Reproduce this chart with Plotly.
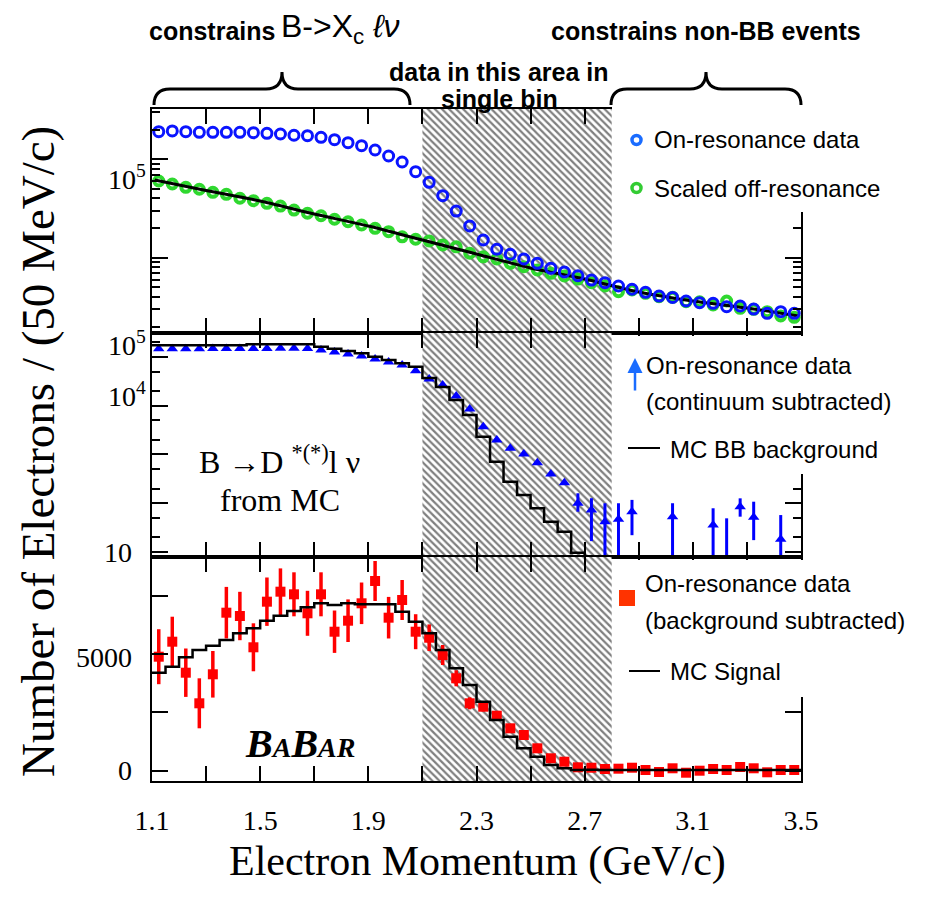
import plotly.graph_objects as go
from plotly.subplots import make_subplots

# ---------------- data ----------------
P = [1.125, 1.175, 1.225, 1.275, 1.325, 1.375, 1.425, 1.475, 1.525, 1.575,
     1.625, 1.675, 1.725, 1.775, 1.825, 1.875, 1.925, 1.975, 2.025, 2.075,
     2.125, 2.175, 2.225, 2.275, 2.325, 2.375, 2.425, 2.475, 2.525, 2.575,
     2.625, 2.675, 2.725, 2.775, 2.825, 2.875, 2.925, 2.975, 3.025, 3.075,
     3.125, 3.175, 3.225, 3.275, 3.325, 3.375, 3.425, 3.475]
BIN_HALF = 0.025

TOP_ON = [190800, 194000, 190800, 188100, 188100, 188100, 188100, 186400, 183800, 180800,
          175400, 173700, 167300, 158200, 147500, 137500, 124300, 108000, 93900, 74800,
          58400, 42700, 29800, 21000, 15130, 12170, 10830, 9700, 8770, 7800,
          7160, 6560, 5930, 5570, 5160, 4780, 4450, 4080, 3950, 3630,
          3490, 3440, 3180, 3230, 3010, 2720, 2830, 2720]
TOP_OFF = [60200, 56100, 51900, 49600, 46200, 44100, 40200, 38000, 35700, 33500,
           30500, 28300, 26700, 24600, 23200, 21500, 19900, 18400, 16300, 15400,
           14800, 13500, 12900, 11100, 10200, 9700, 8770, 8100, 7500, 6940,
           6520, 6070, 5570, 5160, 4510, 4700, 4350, 4020, 3960, 3570,
           3570, 3310, 3630, 3060, 2990, 2830, 2560, 2480]
FIT_P = [1.11, 1.3, 1.5, 1.7, 1.9, 2.1, 2.3, 2.5, 2.7, 2.9, 3.1, 3.3, 3.49]
FIT_Y = [61600, 48200, 37700, 27800, 21000, 15130, 10900, 7860, 6070, 4480, 3630, 3080, 2560]

MID_ON = [147000, 148000, 148000, 148000, 149000, 149000, 150000, 150000, 150000, 150800,
          151000, 150000, 139200, 126600, 115200, 104800, 91000, 78970, 68530, 52360,
          35380, 26650, 15850, 8580, 3718, 1984, 1340, 1024, 679, 398,
          264, 100, 72.7, 41.8, 46.9, 67.1, None, None, 53.0, None,
          None, 35.8, 6, 85.0, 51.5, None, 18.2, None]
MID_UP = [0] * 31 + [60, 54, 58, 53, 50, 0, 0, 47, 0, 0, 43, 43, 41, 56, 0, 39, 0]
MID_DN = [0] * 31 + [33, 56, 41, 46, 45, 0, 0, 52, 0, 0, 35, 5, 32, 34, 0, 17, 0]
MID_MC = [173800, 173800, 173800, 173800, 173800, 173800, 173800, 182200, 182200, 182200,
          182200, 182200, 162700, 148000, 132800, 119100, 101400, 86800, 74270, 63240,
          37090, 24240, 13120, 6460, 2318, 711.8, 276.7, 147.7, 78.8, 41.8,
          26.1, 9.67, 0.3]

BOT_ON = [4880, 5522, 4195, 2885, 4127, 6764, 6622, 5283, 7235, 7663,
          7551, 6738, 7551, 5950, 6421, 7166, 8121, 6550, 7307, 5950,
          5693, 4953, 3955, 2885, 2740, 2354, 1815, 1528, 959, 531,
          385, 146, 128, 73, 86, 128, 30, -56, 103, -86,
          0, 73, 30, 158, 103, -68, 30, 30]
BOT_ERR = [1177, 1070, 1036, 1070, 997, 1104, 1036, 1027, 1036, 997,
           942, 963, 942, 907, 912, 890, 856, 890, 856, 749,
           569, 428, 342, 257, 200, 170, 140, 120, 100, 90,
           80, 70, 60, 60, 60, 60, 60, 60, 60, 60,
           60, 60, 60, 60, 60, 60, 60, 60]
BOT_MC = [4195, 4452, 4854, 5167, 5351, 5595, 5882, 6096, 6421, 6635,
          6836, 6995, 7166, 7093, 7166, 7123, 7123, 7123, 6807, 6378,
          5882, 5167, 4384, 3669, 2954, 2170, 1455, 959, 599, 244,
          103, 30, 40, 30, 35, 30, 25, 30, 30, 35,
          30, 30, 25, 30, 30, 30, 30, 30]

HATCH_LO, HATCH_HI = 2.1, 2.8
X_TICKS = [1.1, 1.3, 1.5, 1.7, 1.9, 2.1, 2.3, 2.5, 2.7, 2.9, 3.1, 3.3, 3.5]
X_LABELS = ["1.1", " ", "1.5", " ", "1.9", " ", "2.3", " ", "2.7", " ", "3.1", " ", "3.5"]

# ---------------- figure ----------------
W, H = 943, 898
ML, MR, MT, MB = 152, 142, 109, 117
PW, PH = W - ML - MR, H - MT - MB


def fx(px):
    return (px - ML) / PW


def fy(py):
    return (H - MB - py) / PH


fig = make_subplots(rows=3, cols=1, shared_xaxes=True, vertical_spacing=0)

SERIF = "Liberation Serif, Times New Roman, serif"
SANS = "Liberation Sans, Arial, sans-serif"

hatch = dict(shape="\\", fgcolor="#000000", bgcolor="white", size=5, solidity=0.45)


def hatch_trace(ylo, yhi):
    return go.Scatter(x=[HATCH_LO, HATCH_HI, HATCH_HI, HATCH_LO, HATCH_LO],
                      y=[ylo, ylo, yhi, yhi, ylo], mode="lines", fill="toself",
                      line=dict(width=0, color="rgba(0,0,0,0)"), fillpattern=hatch,
                      hoverinfo="skip", showlegend=False)


lower_edges = [c - BIN_HALF for c in P]

# top panel
fig.add_trace(hatch_trace(1, 1e7), row=1, col=1)
fig.add_trace(go.Scatter(x=P, y=TOP_OFF, mode="markers",
                         marker=dict(symbol="circle-open", size=9, color="#2fd82f",
                                     line=dict(width=4)), showlegend=False), row=1, col=1)
fig.add_trace(go.Scatter(x=FIT_P, y=FIT_Y, mode="lines", line=dict(color="black", width=3,
                         shape="spline", smoothing=0.6), showlegend=False), row=1, col=1)
fig.add_trace(go.Scatter(x=P, y=TOP_ON, mode="markers",
                         marker=dict(symbol="circle-open", size=10, color="#0a14ff",
                                     line=dict(width=3)), showlegend=False), row=1, col=1)

# middle panel
fig.add_trace(hatch_trace(0.01, 1e7), row=2, col=1)
fig.add_trace(go.Scatter(x=P, y=MID_ON, mode="markers",
                         marker=dict(symbol="triangle-up", size=10, color="#0000ff"),
                         error_y=dict(type="data", symmetric=False, array=MID_UP,
                                      arrayminus=MID_DN, color="#0000ff", thickness=3, width=0),
                         showlegend=False), row=2, col=1)
n_mid = len(MID_MC)
fig.add_trace(go.Scatter(x=lower_edges[:n_mid], y=MID_MC, mode="lines",
                         line=dict(color="black", width=2.5, shape="hv"),
                         showlegend=False), row=2, col=1)

# bottom panel
fig.add_trace(hatch_trace(-5000, 20000), row=3, col=1)
fig.add_trace(go.Scatter(x=P, y=BOT_ON, mode="markers",
                         marker=dict(symbol="square", size=10, color="#ff0000"),
                         error_y=dict(type="data", array=BOT_ERR, color="#ff0000",
                                      thickness=3.5, width=0),
                         showlegend=False), row=3, col=1)
fig.add_trace(go.Scatter(x=lower_edges + [P[-1] + BIN_HALF], y=BOT_MC + [BOT_MC[-1]],
                         mode="lines", line=dict(color="black", width=2.5, shape="hv"),
                         showlegend=False), row=3, col=1)

# axes
for r in (1, 2, 3):
    fig.update_xaxes(range=[1.1, 3.5], tickmode="array", tickvals=X_TICKS, ticktext=X_LABELS,
                     ticks="inside", ticklen=15, tickwidth=1.5, tickcolor="black",
                     showline=True, linewidth=2, linecolor="black", mirror="ticks",
                     showgrid=False, zeroline=False, showticklabels=(r == 3),
                     tickfont=dict(family=SERIF, size=28, color="black"),
                     ticklabelstandoff=13, row=r, col=1)

fig.update_yaxes(type="log", range=[3.235, 5.511], tickmode="array", tickvals=[1e4, 1e5],
                 minor=dict(tickmode="array",
                            tickvals=[2e3, 3e3, 4e3, 5e3, 6e3, 7e3, 8e3, 9e3,
                                      2e4, 3e4, 4e4, 5e4, 6e4, 7e4, 8e4, 9e4, 2e5, 3e5],
                            ticks="inside", ticklen=8, tickcolor="black", tickwidth=1.5),
                 row=1, col=1)
fig.update_yaxes(type="log", range=[0.897, 5.492], tickmode="array",
                 tickvals=[10, 100, 1e3, 1e4, 1e5],
                 minor=dict(tickmode="array",
                            tickvals=[20, 50, 200, 500, 2e3, 5e3, 2e4, 5e4, 2e5],
                            ticks="inside", ticklen=8, tickcolor="black", tickwidth=1.5),
                 row=2, col=1)
fig.update_yaxes(range=[-441, 9148], tickmode="array", tickvals=[0, 2500, 5000, 7500],
                 zeroline=False, row=3, col=1)
fig.update_yaxes(ticks="inside", ticklen=16, tickwidth=1.5, tickcolor="black",
                 showline=True, linewidth=2, linecolor="black", mirror="ticks",
                 showgrid=False, showticklabels=False)

shapes = []
# legend boxes
for y0, y1 in ((107, 212), (336, 474), (560, 697)):
    shapes.append(dict(type="rect", xref="paper", yref="paper", x0=fx(612), x1=fx(815),
                       y0=fy(y1), y1=fy(y0), fillcolor="white", line=dict(width=0),
                       layer="above"))


def brace(x0, x1, xm, yend=105, ybar=89, ytip=72, r=16):
    pts = [
        f"M {fx(x0)},{fy(yend)}",
        f"Q {fx(x0)},{fy(ybar)} {fx(x0 + r)},{fy(ybar)}",
        f"L {fx(xm - r)},{fy(ybar)}",
        f"Q {fx(xm)},{fy(ybar)} {fx(xm)},{fy(ytip)}",
        f"Q {fx(xm)},{fy(ybar)} {fx(xm + r)},{fy(ybar)}",
        f"L {fx(x1 - r)},{fy(ybar)}",
        f"Q {fx(x1)},{fy(ybar)} {fx(x1)},{fy(yend)}",
    ]
    return dict(type="path", xref="paper", yref="paper", path=" ".join(pts),
                line=dict(color="black", width=3), layer="above")


shapes.append(brace(154, 410, 282))
shapes.append(brace(611, 801, 706))

# legend symbols
for cy, col in ((140, "#1a6cff"), (188, "#33cc33")):
    shapes.append(dict(type="circle", xref="paper", yref="paper", x0=fx(632), x1=fx(641),
                       y0=fy(cy + 4.5), y1=fy(cy - 4.5), line=dict(color=col, width=3.5),
                       layer="above"))
shapes.append(dict(type="line", xref="paper", yref="paper", x0=fx(628), x1=fx(660),
                   y0=fy(448), y1=fy(448), line=dict(color="black", width=2), layer="above"))
shapes.append(dict(type="line", xref="paper", yref="paper", x0=fx(629), x1=fx(660),
                   y0=fy(671), y1=fy(671), line=dict(color="black", width=2), layer="above"))
shapes.append(dict(type="rect", xref="paper", yref="paper", x0=fx(619), x1=fx(635),
                   y0=fy(606), y1=fy(590), fillcolor="#ff3300", line=dict(width=0),
                   layer="above"))
fig.update_layout(shapes=shapes)

ann = []


def txt(t, x, y, size, family=SANS, xanchor="left", yanchor="middle", **kw):
    ann.append(dict(text=t, x=fx(x), y=fy(y), xref="paper", yref="paper", showarrow=False,
                    xanchor=xanchor, yanchor=yanchor,
                    font=dict(family=family, size=size, color="black"), **kw))


# legends
txt("On-resonance data", 652, 140, 24)
txt("Scaled off-resonance", 652, 188, 24)
txt("On-resonance data", 644, 365, 24)
txt("(continuum subtracted)", 644, 401, 24)
txt("MC BB background", 668, 449, 24)
txt("On-resonance data", 643, 583, 24)
txt("(background subtracted)", 643, 620, 24)
txt("MC Signal", 668, 671, 24)
ann.append(dict(x=fx(635), y=fy(358), xref="paper", yref="paper", text="", showarrow=True,
                ax=0, ay=34, arrowhead=2, arrowsize=1.2, arrowwidth=2.5,
                arrowcolor="#1a6cff"))

# header
txt("<b>constrains</b>", 147, 31, 25)
txt("B-&gt;X<sub>c</sub> <i>ℓν</i>", 279, 29, 32)
txt("<b>constrains non-BB events</b>", 549, 31, 25)
txt("<b>data in this area in</b>", 499, 72, 25, xanchor="center")
txt("<b>single bin</b>", 499, 99, 25, xanchor="center")

# in-plot labels
txt("B →D <sup>*(*)</sup>l ν", 279, 460, 32, family=SERIF, xanchor="center")
txt("from MC", 280, 500, 32, family=SERIF, xanchor="center")
txt("<b><i>B<span style='font-size:28px'>A</span>B<span style='font-size:28px'>AR</span></i></b>",
    300, 743, 40, family=SERIF, xanchor="center")

# y tick labels
txt("10<sup>5</sup>", 148, 178, 28, family=SERIF, xanchor="right")
txt("10<sup>5</sup>", 148, 343, 28, family=SERIF, xanchor="right")
txt("10<sup>4</sup>", 148, 394, 28, family=SERIF, xanchor="right")
txt("10", 134, 552, 28, family=SERIF, xanchor="right")
txt("5000", 134, 657, 28, family=SERIF, xanchor="right")
txt("0", 134, 770, 28, family=SERIF, xanchor="right")

# axis titles
txt("Number of Electrons / (50 MeV/c)", 38, 452, 47, family=SERIF, xanchor="center",
    textangle=-90)
txt("Electron Momentum (GeV/c)", 477, 862, 42, family=SERIF, xanchor="center")

fig.update_layout(annotations=ann, width=W, height=H, autosize=False,
                  margin=dict(l=ML, r=MR, t=MT, b=MB, pad=0),
                  paper_bgcolor="white", plot_bgcolor="white", showlegend=False)

fig.write_html("out.html")
